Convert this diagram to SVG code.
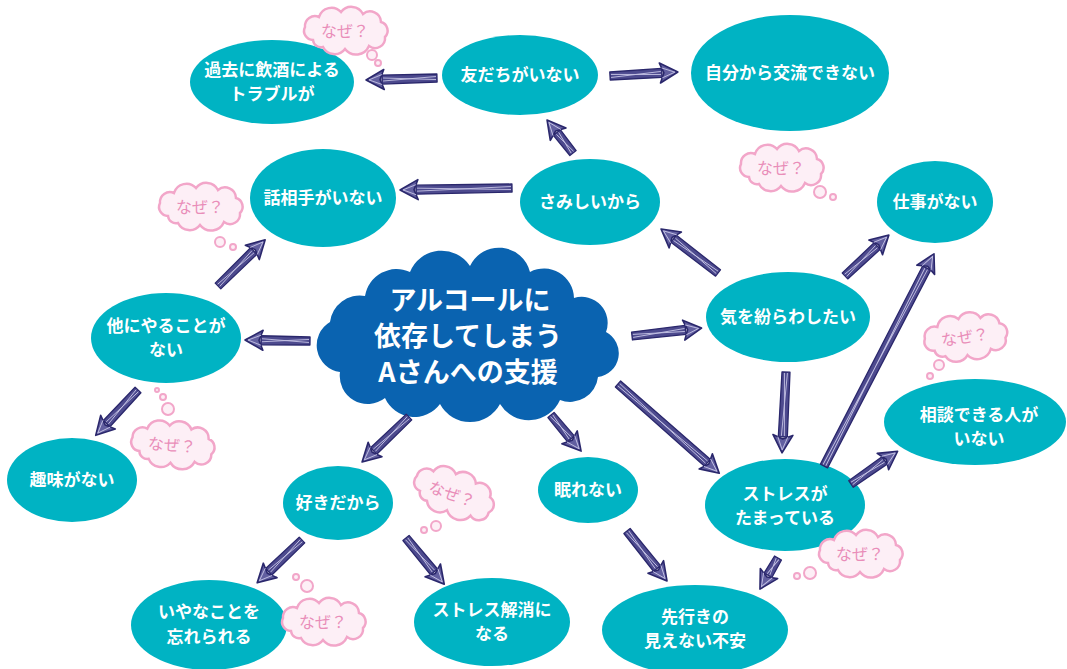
<svg xmlns="http://www.w3.org/2000/svg" xmlns:xlink="http://www.w3.org/1999/xlink" width="1067" height="669" viewBox="0 0 1067 669">
<style>
.node ellipse{fill:#00B3C3}
.node text{font-family:"Noto Sans CJK JP","Noto Sans",sans-serif;font-size:17px;font-weight:bold;fill:#ffffff;text-anchor:middle}
.main text{font-family:"Noto Sans CJK JP","Noto Sans",sans-serif;font-size:27px;font-weight:bold;fill:#ffffff;text-anchor:middle}
.naze use{fill:#FDEFF6;stroke:#F2A6C9;stroke-width:2.5}
.naze circle{fill:#FDEFF6;stroke:#F2A6C9;stroke-width:2}
.naze text{font-family:"Noto Sans CJK JP","Noto Sans",sans-serif;font-size:16px;fill:#E98DB9;text-anchor:middle}
.sh{fill:#4d4a8e;stroke:#2a276c;stroke-width:1.3;stroke-linejoin:round}
.hd{fill:#625fa0;stroke:#2a276c;stroke-width:1.6;stroke-linejoin:round}
.ht{fill:none;stroke:#c4c2e4;stroke-width:0.9}
</style>
<defs>
<path id="cloud" d="M-34,9 a9,9 0 0 1 -8,-13 a10,10 0 0 1 14,-10 a13,13 0 0 1 22,-5 a13,13 0 0 1 22,2 a11,11 0 0 1 18,8 a9,9 0 0 1 4,15 a10,10 0 0 1 -16,9 a14,14 0 0 1 -24,3 a13,13 0 0 1 -22,-2 a8,8 0 0 1 -10,-7 Z"/>
</defs>
<rect width="1067" height="669" fill="#ffffff"/>

<g id="main" class="main">
<path d="M340,372 A27,27 0 0 1 330,322 A30,30 0 0 1 365,296 A32,32 0 0 1 410,272 A34,34 0 0 1 470,266 A32,32 0 0 1 530,272 A30,30 0 0 1 574,298 A26,26 0 0 1 606,332 A24,24 0 0 1 598,377 A28,28 0 0 1 560,400 A34,34 0 0 1 500,404 A34,34 0 0 1 440,404 A32,32 0 0 1 385,398 A28,28 0 0 1 340,372 Z" fill="#0A63B0"/>
<text x="470" y="310">アルコールに</text>
<text x="468" y="346">依存してしまう</text>
<text x="468" y="382">Aさんへの支援</text>
</g>

<g id="n1" class="node"><ellipse cx="272" cy="82" rx="82" ry="42"/><text x="272" y="76">過去に飲酒による</text><text x="272" y="100">トラブルが</text></g>
<g id="n2" class="node"><ellipse cx="520" cy="75" rx="78" ry="40"/><text x="520" y="81">友だちがいない</text></g>
<g id="n3" class="node"><ellipse cx="790" cy="73" rx="99" ry="58"/><text x="790" y="79">自分から交流できない</text></g>
<g id="n4" class="node"><ellipse cx="323" cy="198" rx="73" ry="49"/><text x="323" y="204">話相手がいない</text></g>
<g id="n5" class="node"><ellipse cx="590" cy="202" rx="70" ry="43"/><text x="590" y="208">さみしいから</text></g>
<g id="n6" class="node"><ellipse cx="935" cy="202" rx="58" ry="41"/><text x="935" y="208">仕事がない</text></g>
<g id="n7" class="node"><ellipse cx="166" cy="338" rx="75" ry="45"/><text x="166" y="332">他にやることが</text><text x="166" y="356">ない</text></g>
<g id="n8" class="node"><ellipse cx="788" cy="317" rx="82" ry="45"/><text x="788" y="323">気を紛らわしたい</text></g>
<g id="n9" class="node"><ellipse cx="975" cy="422" rx="91" ry="43"/><text x="979" y="421">相談できる人が</text><text x="979" y="445">いない</text></g>
<g id="n10" class="node"><ellipse cx="72" cy="480" rx="65" ry="42"/><text x="72" y="486">趣味がない</text></g>
<g id="n11" class="node"><ellipse cx="338" cy="503" rx="55" ry="37"/><text x="338" y="509">好きだから</text></g>
<g id="n12" class="node"><ellipse cx="588" cy="490" rx="50" ry="33"/><text x="588" y="496">眠れない</text></g>
<g id="n13" class="node"><ellipse cx="785" cy="505" rx="80" ry="46"/><text x="785" y="500">ストレスが</text><text x="785" y="524">たまっている</text></g>
<g id="n14" class="node"><ellipse cx="209" cy="625" rx="78" ry="45"/><text x="209" y="618">いやなことを</text><text x="209" y="643">忘れられる</text></g>
<g id="n15" class="node"><ellipse cx="492" cy="622" rx="78" ry="44"/><text x="492" y="616">ストレス解消に</text><text x="492" y="640">なる</text></g>
<g id="n16" class="node"><ellipse cx="695" cy="630" rx="93" ry="45"/><text x="695" y="623">先行きの</text><text x="695" y="647">見えない不安</text></g>

<g id="naze">
<g class="naze"><circle cx="378" cy="63" r="3"/><circle cx="372" cy="55" r="5"/><use xlink:href="#cloud" transform="translate(347,31)"/><text x="345" y="37">なぜ？</text></g>
<g class="naze"><circle cx="233" cy="247" r="3"/><circle cx="220" cy="242" r="5"/><use xlink:href="#cloud" transform="translate(202,207)"/><text x="200" y="213">なぜ？</text></g>
<g class="naze"><circle cx="833" cy="197" r="3"/><circle cx="820" cy="192" r="6"/><use xlink:href="#cloud" transform="translate(783,168)"/><text x="781" y="174">なぜ？</text></g>
<g class="naze"><circle cx="930" cy="376" r="3"/><circle cx="939" cy="365" r="5"/><use xlink:href="#cloud" transform="translate(967,337) rotate(-8)"/><text x="965" y="343" transform="rotate(-8 965 337)">なぜ？</text></g>
<g class="naze"><circle cx="157" cy="390" r="2"/><circle cx="163" cy="397" r="3"/><circle cx="168" cy="409" r="6"/><use xlink:href="#cloud" transform="translate(174,445) rotate(5)"/><text x="172" y="451" transform="rotate(5 172 445)">なぜ？</text></g>
<g class="naze"><circle cx="424" cy="530" r="3"/><circle cx="436" cy="526" r="5"/><use xlink:href="#cloud" transform="translate(455,494) rotate(20)"/><text x="452" y="500" transform="rotate(20 452 494)">なぜ？</text></g>
<g class="naze"><circle cx="296" cy="577" r="3"/><circle cx="307" cy="586" r="6"/><use xlink:href="#cloud" transform="translate(325,622)"/><text x="323" y="628">なぜ？</text></g>
<g class="naze"><circle cx="797" cy="576" r="3"/><circle cx="810" cy="573" r="6"/><use xlink:href="#cloud" transform="translate(862,554)"/><text x="860" y="560">なぜ？</text></g>
</g>

<g id="connectors">
<g transform="translate(437,78) rotate(178.4)"><path class="sh" d="M0,-4 L55,-4.5 L55,4.5 L0,4 Z"/><path class="ht" d="M1,-1.5 L54,1.5 M1,1.5 L54,-1.5"/><path class="hd" d="M53,-10 L71,0 L53,10 L57,0 Z"/><path class="ht" d="M55,-5 L68,0 L55,5"/></g>
<g transform="translate(610,76) rotate(-3.4)"><path class="sh" d="M0,-4 L52,-4.5 L52,4.5 L0,4 Z"/><path class="ht" d="M1,-1.5 L51,1.5 M1,1.5 L51,-1.5"/><path class="hd" d="M50,-10 L68,0 L50,10 L54,0 Z"/><path class="ht" d="M52,-5 L65,0 L52,5"/></g>
<g transform="translate(573,153) rotate(-128.2)"><path class="sh" d="M0,-4 L26,-4.5 L26,4.5 L0,4 Z"/><path class="ht" d="M1,-1.5 L25,1.5 M1,1.5 L25,-1.5"/><path class="hd" d="M24,-10 L42,0 L24,10 L28,0 Z"/><path class="ht" d="M26,-5 L39,0 L26,5"/></g>
<g transform="translate(512,188) rotate(179)"><path class="sh" d="M0,-4 L96,-4.5 L96,4.5 L0,4 Z"/><path class="ht" d="M1,-1.5 L95,1.5 M1,1.5 L95,-1.5"/><path class="hd" d="M94,-10 L112,0 L94,10 L98,0 Z"/><path class="ht" d="M96,-5 L109,0 L96,5"/></g>
<g transform="translate(718,273) rotate(-142.3)"><path class="sh" d="M0,-4 L56,-4.5 L56,4.5 L0,4 Z"/><path class="ht" d="M1,-1.5 L55,1.5 M1,1.5 L55,-1.5"/><path class="hd" d="M54,-10 L72,0 L54,10 L58,0 Z"/><path class="ht" d="M56,-5 L69,0 L56,5"/></g>
<g transform="translate(845,276) rotate(-43)"><path class="sh" d="M0,-4 L44,-4.5 L44,4.5 L0,4 Z"/><path class="ht" d="M1,-1.5 L43,1.5 M1,1.5 L43,-1.5"/><path class="hd" d="M42,-10 L60,0 L42,10 L46,0 Z"/><path class="ht" d="M44,-5 L57,0 L44,5"/></g>
<g transform="translate(218,286) rotate(-44.4)"><path class="sh" d="M0,-4 L50,-4.5 L50,4.5 L0,4 Z"/><path class="ht" d="M1,-1.5 L49,1.5 M1,1.5 L49,-1.5"/><path class="hd" d="M48,-10 L66,0 L48,10 L52,0 Z"/><path class="ht" d="M50,-5 L63,0 L50,5"/></g>
<g transform="translate(310,341) rotate(-179.1)"><path class="sh" d="M0,-4 L49,-4.5 L49,4.5 L0,4 Z"/><path class="ht" d="M1,-1.5 L48,1.5 M1,1.5 L48,-1.5"/><path class="hd" d="M47,-10 L65,0 L47,10 L51,0 Z"/><path class="ht" d="M49,-5 L62,0 L49,5"/></g>
<g transform="translate(138,390) rotate(133)"><path class="sh" d="M0,-4 L46,-4.5 L46,4.5 L0,4 Z"/><path class="ht" d="M1,-1.5 L45,1.5 M1,1.5 L45,-1.5"/><path class="hd" d="M44,-10 L62,0 L44,10 L48,0 Z"/><path class="ht" d="M46,-5 L59,0 L46,5"/></g>
<g transform="translate(632,336) rotate(-6.5)"><path class="sh" d="M0,-4 L54,-4.5 L54,4.5 L0,4 Z"/><path class="ht" d="M1,-1.5 L53,1.5 M1,1.5 L53,-1.5"/><path class="hd" d="M52,-10 L70,0 L52,10 L56,0 Z"/><path class="ht" d="M54,-5 L67,0 L54,5"/></g>
<g transform="translate(786,372) rotate(92.8)"><path class="sh" d="M0,-4 L65,-4.5 L65,4.5 L0,4 Z"/><path class="ht" d="M1,-1.5 L64,1.5 M1,1.5 L64,-1.5"/><path class="hd" d="M63,-10 L81,0 L63,10 L67,0 Z"/><path class="ht" d="M65,-5 L78,0 L65,5"/></g>
<g transform="translate(824,466) rotate(-62.6)"><path class="sh" d="M0,-4 L223,-4.5 L223,4.5 L0,4 Z"/><path class="ht" d="M1,-1.5 L222,1.5 M1,1.5 L222,-1.5"/><path class="hd" d="M221,-10 L239,0 L221,10 L225,0 Z"/><path class="ht" d="M223,-5 L236,0 L223,5"/></g>
<g transform="translate(851,484) rotate(-35.1)"><path class="sh" d="M0,-4 L41,-4.5 L41,4.5 L0,4 Z"/><path class="ht" d="M1,-1.5 L40,1.5 M1,1.5 L40,-1.5"/><path class="hd" d="M39,-10 L57,0 L39,10 L43,0 Z"/><path class="ht" d="M41,-5 L54,0 L41,5"/></g>
<g transform="translate(618,384) rotate(41.4)"><path class="sh" d="M0,-4 L119,-4.5 L119,4.5 L0,4 Z"/><path class="ht" d="M1,-1.5 L118,1.5 M1,1.5 L118,-1.5"/><path class="hd" d="M117,-10 L135,0 L117,10 L121,0 Z"/><path class="ht" d="M119,-5 L132,0 L119,5"/></g>
<g transform="translate(409,417) rotate(136.2)"><path class="sh" d="M0,-4 L49,-4.5 L49,4.5 L0,4 Z"/><path class="ht" d="M1,-1.5 L48,1.5 M1,1.5 L48,-1.5"/><path class="hd" d="M47,-10 L65,0 L47,10 L51,0 Z"/><path class="ht" d="M49,-5 L62,0 L49,5"/></g>
<g transform="translate(551,415) rotate(50.2)"><path class="sh" d="M0,-4 L31,-4.5 L31,4.5 L0,4 Z"/><path class="ht" d="M1,-1.5 L30,1.5 M1,1.5 L30,-1.5"/><path class="hd" d="M29,-10 L47,0 L29,10 L33,0 Z"/><path class="ht" d="M31,-5 L44,0 L31,5"/></g>
<g transform="translate(302,540) rotate(136.3)"><path class="sh" d="M0,-4 L46,-4.5 L46,4.5 L0,4 Z"/><path class="ht" d="M1,-1.5 L45,1.5 M1,1.5 L45,-1.5"/><path class="hd" d="M44,-10 L62,0 L44,10 L48,0 Z"/><path class="ht" d="M46,-5 L59,0 L46,5"/></g>
<g transform="translate(406,538) rotate(50.4)"><path class="sh" d="M0,-4 L44,-4.5 L44,4.5 L0,4 Z"/><path class="ht" d="M1,-1.5 L43,1.5 M1,1.5 L43,-1.5"/><path class="hd" d="M42,-10 L60,0 L42,10 L46,0 Z"/><path class="ht" d="M44,-5 L57,0 L44,5"/></g>
<g transform="translate(627,531) rotate(51.3)"><path class="sh" d="M0,-4 L48,-4.5 L48,4.5 L0,4 Z"/><path class="ht" d="M1,-1.5 L47,1.5 M1,1.5 L47,-1.5"/><path class="hd" d="M46,-10 L64,0 L46,10 L50,0 Z"/><path class="ht" d="M48,-5 L61,0 L48,5"/></g>
<g transform="translate(778,558) rotate(120.1)"><path class="sh" d="M0,-4 L20,-4.5 L20,4.5 L0,4 Z"/><path class="ht" d="M1,-1.5 L19,1.5 M1,1.5 L19,-1.5"/><path class="hd" d="M18,-10 L36,0 L18,10 L22,0 Z"/><path class="ht" d="M20,-5 L33,0 L20,5"/></g>
</g>
</svg>
